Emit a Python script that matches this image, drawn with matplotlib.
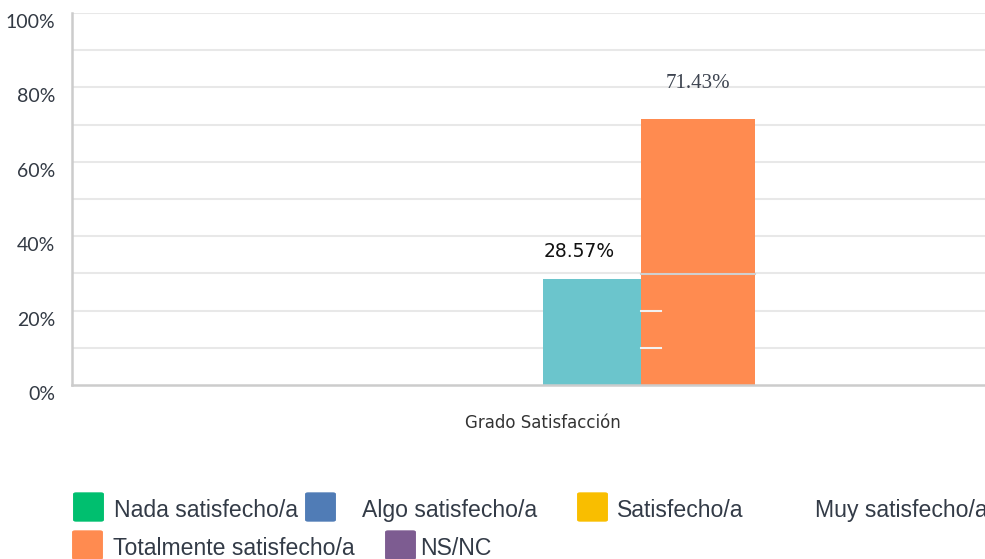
import matplotlib.pyplot as plt
from matplotlib.patches import FancyBboxPatch
import matplotlib.transforms as mtransforms

# data
category = 'Grado Satisfacción'
series = ['Nada satisfecho/a', 'Algo satisfecho/a', 'Satisfecho/a',
          'Muy satisfecho/a', 'Totalmente satisfecho/a', 'NS/NC']
values = [0, 0, 0, 28.57, 71.43, 0]
colors = ['#00BF6F', '#507CB6', '#F9BE00', '#6BC5CC', '#FF8B50', '#7D5C91']
yticks = [0, 20, 40, 60, 80, 100]
ytick_labels = ['0%', '20%', '40%', '60%', '80%', '100%']

W, H = 985, 559
fig = plt.figure(figsize=(W / 100, H / 100), dpi=100)
ax = fig.add_axes([72 / W, (H - 385) / H, 942 / W, 372 / H])

# bar slots (the last-but-one series is drawn a bit wider, as in the source)
slot = 0.104
widths = [slot, slot, slot, slot, 0.121, slot]
lefts = []
x = -3 * slot
for w in widths:
    lefts.append(x)
    x += w

for i, v in enumerate(values):
    if v > 0:
        ax.bar(lefts[i], v, width=widths[i], align='edge', color=colors[i],
               zorder=2, linewidth=0)

# gridlines every 10%
for g in range(10, 101, 10):
    ax.axhline(g, color='#e8e8e8', lw=1.5, zorder=1)

# odd little artifacts over the orange bar
o = 4
ax.plot([lefts[o], lefts[o] + widths[o]], [values[3] + 1.3] * 2,
        color='#d0d0d0', lw=1.5, zorder=3)
for g in (10, 20):
    ax.plot([lefts[o], lefts[o] + 0.021], [g, g], color='#f2f2f2', lw=1.5, zorder=3)

ax.set_xlim(-0.5, 0.5)
ax.set_ylim(0, 100)
ax.set_xticks([])
ax.set_yticks(yticks)
ax.set_yticklabels(ytick_labels, fontsize=14, family='Lato', color='#333a44')
ax.tick_params(axis='y', length=0, pad=12)
offset = mtransforms.ScaledTranslation(0, -8 / 100, fig.dpi_scale_trans)
for lbl in ax.get_yticklabels():
    lbl.set_transform(lbl.get_transform() + offset)

for s in ['top', 'right']:
    ax.spines[s].set_visible(False)
ax.spines['left'].set_color('#cccccc')
ax.spines['bottom'].set_color('#cccccc')
ax.spines['left'].set_linewidth(1.8)
ax.spines['bottom'].set_linewidth(1.8)

ax.set_xlabel(category, fontsize=12, color='#333333', labelpad=21)

# value labels
ax.annotate('28.57%', (lefts[3] + widths[3] / 2, values[3]), xytext=(-9, 13),
            textcoords='offset points', ha='center', va='bottom',
            fontsize=13.5, family='DejaVu Sans', color='#111111')
ax.annotate('71.43%', (lefts[4] + widths[4] / 2, values[4]), xytext=(0, 19),
            textcoords='offset points', ha='center', va='bottom',
            fontsize=15, family='Liberation Serif', color='#3d4450')

# legend drawn by hand: (handle left, row top, text left)
legend_pos = [(73, 491, 114), (305, 491, 362), (577, 491, 617),
              (None, 491, 815), (72, 529, 113), (385, 529, 420)]
for i, (hx, hy, tx) in enumerate(legend_pos):
    if hx is not None:
        box = FancyBboxPatch(((hx + 3) / W, (H - hy - 29) / H), 25 / W, 26 / H,
                             boxstyle='round,pad=0.003', transform=fig.transFigure,
                             facecolor=colors[i], edgecolor='none')
        fig.patches.append(box)
    fig.text(tx / W, (H - hy - 26) / H, series[i], fontsize=16.6,
             family='Liberation Sans', color='#333b47', va='baseline', ha='left')

fig.savefig('out.png', dpi=100)
